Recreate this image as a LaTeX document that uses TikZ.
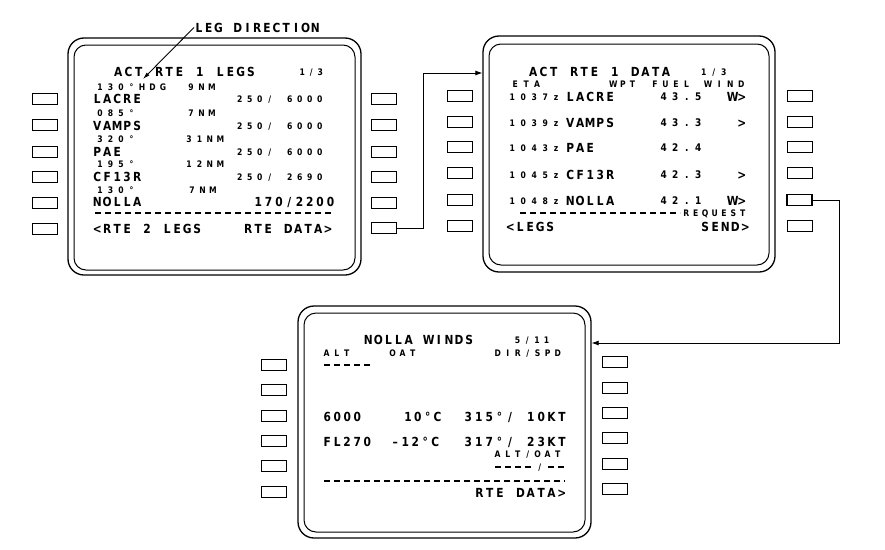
\documentclass[tikz,border=0pt]{standalone}
\usepackage{fontspec}
\usetikzlibrary{arrows.meta}
\newfontfamily\fmcf{DejaVu Sans}[FakeStretch=0.85]
\ExplSyntaxOn
\NewDocumentCommand\fmc{O{10}m}{\str_map_inline:nn{#2}{\makebox[#1pt][c]{##1}}}
\ExplSyntaxOff
\tikzset{
  big/.style={font=\fmcf\fontsize{12.5}{13}\selectfont\bfseries, anchor=base west, inner sep=0pt, yshift=-4.5pt, xshift=-2pt},
  small/.style={font=\fmcf\fontsize{9}{10}\selectfont\bfseries, anchor=base west, inner sep=0pt, yshift=-3.3pt, xshift=-2.5pt},
  mid/.style={font=\fmcf\fontsize{10.5}{11}\selectfont\bfseries, anchor=base west, inner sep=0pt, yshift=-3.9pt, xshift=-2.2pt},
  frameout/.style={draw, line width=1.3pt, rounded corners=16pt, inner sep=0pt},
  framein/.style={draw, line width=1pt, rounded corners=12pt, inner sep=0pt},
  btn/.style={draw, line width=0.8pt, minimum width=25pt, minimum height=11pt, inner sep=0pt},
  btnsel/.style={btn, line width=1.6pt},
  rule/.style={line width=1.3pt, dash pattern=on 6pt off 4pt},
  conn/.style={line width=0.8pt, -{Latex[length=7pt,width=5pt]}},
}
\begin{document}
\begin{tikzpicture}[x=1pt,y=-1pt]
\useasboundingbox (0,0) rectangle (885,549);
\fill[white] (0,0) rectangle (885,549);

% ---------- left screen: RTE 1 LEGS ----------
\node[frameout, minimum width=293pt, minimum height=237pt] (Lout) at (214.5,156.5) {};
\node[framein, minimum width=281pt, minimum height=225pt] (Lin) at (214.5,157.5) {};
\foreach \y [count=\i] in {99,125,152,177,203,229} {
  \node[btn] (Ll\i) at (44.5,\y) {};
}
\foreach \y [count=\i] in {99,125,152,177,203} {
  \node[btn] (Lr\i) at (384,\y) {};
}
\node[btnsel] (Lr6) at (384,228) {};

\node[big] (l1) at (115,72) {\fmc[10.2]{ACT RTE 1 LEGS}};
\node[small] (l2) at (300,72) {\fmc[9]{1/3}};
\node[small] (l3) at (97,87) {\fmc[10.5]{130°HDG}};
\node[small] (l4) at (188,87) {\fmc[10.5]{9NM}};
\node[big] (l5) at (94,99) {\fmc{LACRE}};
\node[small] (l6) at (237,99) {\fmc[10]{250/ 6000}};
\node[small] (l7) at (97,113) {\fmc[10.5]{085°}};
\node[small] (l8) at (188,113) {\fmc[10.5]{7NM}};
\node[big] (l9) at (94,126) {\fmc{VAMPS}};
\node[small] (l10) at (237,126) {\fmc[10]{250/ 6000}};
\node[small] (l11) at (97,139) {\fmc[10.5]{320°}};
\node[small] (l12) at (186,139) {\fmc[10.5]{31NM}};
\node[big] (l13) at (94,152) {\fmc{PAE}};
\node[small] (l14) at (237,152) {\fmc[10]{250/ 6000}};
\node[small] (l15) at (97,164) {\fmc[10.5]{195°}};
\node[small] (l16) at (186,164) {\fmc[10.5]{12NM}};
\node[big] (l17) at (94,177) {\fmc{CF13R}};
\node[small] (l18) at (237,177) {\fmc[10]{250/ 2690}};
\node[small] (l19) at (97,190) {\fmc[10.5]{130°}};
\node[small] (l20) at (189,190) {\fmc[10.5]{7NM}};
\node[big] (l21) at (94,202) {\fmc{NOLLA}};
\node[big] (l22) at (255,202) {\fmc[10.3]{170/2200}};
\coordinate (lr1) at (95,213);
\coordinate (lr2) at (333,213);
\draw[rule] (lr1) -- (lr2);
\node[big] (l23) at (94,229) {\fmc{<RTE 2 LEGS}};
\node[big] (l24) at (245,229) {\fmc{RTE DATA>}};

% LEG DIRECTION label
\node[big, anchor=west, yshift=0pt] (legdir) at (196,23) {\fmc[9.7]{LEG DIRECTION}};
\coordinate (legtip) at (143,79);
\draw[line width=0.9pt, -{Latex[length=7pt,width=4pt]}] (legdir.west) -- (legtip);

% ---------- right screen: RTE 1 DATA ----------
\node[frameout, minimum width=292pt, minimum height=236pt] (Rout) at (629,154) {};
\node[framein, minimum width=280pt, minimum height=221pt] (Rin) at (629,154.5) {};
\foreach \y [count=\i] in {96,122,147,173,200,226} {
  \node[btn] (Rl\i) at (460,\y) {};
}
\foreach \y [count=\i] in {96,122,147,173} {
  \node[btn] (Rr\i) at (799.5,\y) {};
}
\node[btnsel] (Rr5) at (799.5,200) {};
\node[btn] (Rr6) at (799.5,226) {};

\node[big] (r1) at (530,72) {\fmc[10.2]{ACT RTE 1 DATA}};
\node[small] (r2) at (701,72) {\fmc[10]{1/3}};
\node[small] (r3) at (512,84) {\fmc[11]{ETA}};
\node[small] (r4) at (611,84) {\fmc[9.5]{WPT}};
\node[small] (r5) at (652,84) {\fmc[10.5]{FUEL}};
\node[small] (r6) at (705,84) {\fmc[11]{WIND}};
\node[small] (r7) at (509,97) {\fmc[11]{1037z}};
\node[big] (r8) at (567,97) {\fmc{LACRE}};
\node[mid] (r9) at (660,97) {\fmc[11.5]{43.5}};
\node[big] (r10) at (730,97) {\fmc[9]{W>}};
\node[small] (r11) at (509,123) {\fmc[11]{1039z}};
\node[big] (r12) at (567,123) {\fmc{VAMPS}};
\node[mid] (r13) at (660,123) {\fmc[11.5]{43.3}};
\node[big] (r14) at (739,123) {\fmc[9]{>}};
\node[small] (r15) at (509,148) {\fmc[11]{1043z}};
\node[big] (r16) at (567,148) {\fmc{PAE}};
\node[mid] (r17) at (660,148) {\fmc[11.5]{42.4}};
\node[small] (r18) at (509,175) {\fmc[11]{1045z}};
\node[big] (r19) at (567,175) {\fmc{CF13R}};
\node[mid] (r20) at (660,175) {\fmc[11.5]{42.3}};
\node[big] (r21) at (739,175) {\fmc[9]{>}};
\node[small] (r22) at (509,201) {\fmc[11]{1048z}};
\node[big] (r23) at (567,201) {\fmc{NOLLA}};
\node[mid] (r24) at (660,201) {\fmc[11.5]{42.1}};
\node[big] (r25) at (730,201) {\fmc[9]{W>}};
\coordinate (rr1) at (520,213);
\coordinate (rr2) at (680,213);
\draw[rule] (rr1) -- (rr2);
\node[small] (r26) at (684,213) {\fmc[9.4]{REQUEST}};
\node[big] (r27) at (507,227) {\fmc{<LEGS}};
\node[big] (r28) at (702,227) {\fmc{SEND>}};

% ---------- bottom screen: NOLLA WINDS ----------
\node[frameout, minimum width=293pt, minimum height=232pt] (Bout) at (444.5,422) {};
\node[framein, minimum width=281pt, minimum height=219pt] (Bin) at (444.5,422.5) {};
\foreach \y [count=\i] in {365,390,416,441,466,492} {
  \node[btn] (Bl\i) at (274,\y) {};
}
\foreach \y [count=\i] in {362,388,413,438,464,489} {
  \node[btn] (Br\i) at (614.5,\y) {};
}
\node[big] (b1) at (365,340) {\fmc[10.1]{NOLLA WINDS}};
\node[small] (b2) at (515,340) {\fmc[9.7]{5/11}};
\node[small] (b3) at (324,353) {\fmc[10]{ALT}};
\node[small] (b4) at (390,353) {\fmc[10]{OAT}};
\node[small] (b5) at (495,353) {\fmc[10]{DIR/SPD}};
\coordinate (br1) at (324,365);
\coordinate (br2) at (370,365);
\draw[rule, line width=1.2pt] (br1) -- (br2);
\node[big] (b6) at (324,417) {\fmc{6000}};
\node[big] (b7) at (405,417) {\fmc[9.8]{10°C}};
\node[big] (b8) at (465,417) {\fmc[10.4]{315°/ 10KT}};
\node[big] (b9) at (324,442) {\fmc{FL270}};
\node[big] (b10) at (392,442) {\fmc[10]{–12°C}};
\node[big] (b11) at (465,442) {\fmc[10.4]{317°/ 23KT}};
\node[small] (b12) at (495,454) {\fmc[10]{ALT/OAT}};
\coordinate (br3) at (495,467);
\coordinate (br4) at (531,467);
\draw[rule, line width=1.2pt] (br3) -- (br4);
\node[small] (b13) at (538,467) {\fmc[8]{/}};
\coordinate (br5) at (548,467);
\coordinate (br6) at (564,467);
\draw[rule, line width=1.2pt] (br5) -- (br6);
\coordinate (br7) at (324,481);
\coordinate (br8) at (565,481);
\draw[rule] (br7) -- (br8);
\node[big] (b14) at (476,493) {\fmc[10.3]{RTE DATA>}};

% ---------- connectors ----------
\coordinate (j1) at (423,73);
\draw[conn] (Lr6.east) -| (j1) -- (j1 -| Rout.west);
\coordinate (j2) at (839,343);
\draw[conn] (Rr5.east) -| (j2) -- (j2 -| Bout.east);
\end{tikzpicture}
\end{document}
